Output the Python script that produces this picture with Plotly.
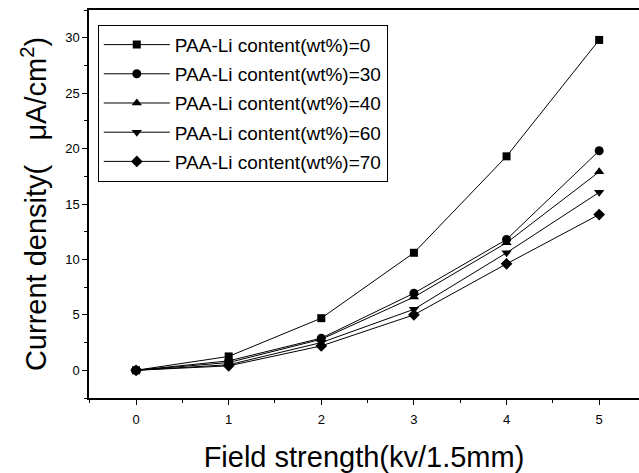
import plotly.graph_objects as go

field = [0, 1, 2, 3, 4, 5]
labels = ["PAA-Li content(wt%)=0", "PAA-Li content(wt%)=30", "PAA-Li content(wt%)=40",
          "PAA-Li content(wt%)=60", "PAA-Li content(wt%)=70"]
c0 = [0.0, 1.25, 4.7, 10.6, 19.3, 29.8]
c30 = [0.0, 0.85, 2.9, 6.95, 11.8, 19.8]
c40 = [0.0, 0.7, 2.8, 6.6, 11.5, 17.9]
c60 = [0.0, 0.5, 2.5, 5.5, 10.6, 16.05]
c70 = [0.0, 0.4, 2.2, 5.0, 9.6, 14.05]
series = [c0, c30, c40, c60, c70]
symbols = ["square", "circle", "triangle-up", "triangle-down", "diamond"]
sizes = [8, 9, 9, 9, 9]

fig = go.Figure()
for i, (lab, ys, sym, sz) in enumerate(zip(labels, series, symbols, sizes)):
    fig.add_trace(go.Scatter(x=field, y=ys, name=lab, mode="lines+markers",
                             legendgroup=f"g{i}",
                             line=dict(color="black", width=1),
                             marker=dict(symbol=sym, size=sz, color="black")))

font = "Liberation Sans, Arial, sans-serif"
fig.update_layout(
    width=639, height=473,
    margin=dict(l=89, r=0, t=10, b=75),
    paper_bgcolor="white", plot_bgcolor="white",
    font=dict(family=font, color="black"),
    showlegend=True,
    legend=dict(x=0.016, y=0.962, xanchor="left", yanchor="top",
                bordercolor="black", borderwidth=1, bgcolor="white",
                traceorder="grouped", tracegroupgap=1.5,
                font=dict(size=19, family=font), itemwidth=66),
    xaxis=dict(range=[-0.508, 5.43], tickvals=[0, 1, 2, 3, 4, 5],
               ticks="outside", ticklen=5, tickwidth=1, tickcolor="black",
               showline=True, linecolor="black", linewidth=1.5, mirror=True,
               showgrid=False, zeroline=False, ticklabelstandoff=4,
               tickfont=dict(size=13),
               minor=dict(dtick=0.5, tick0=0, ticks="outside", ticklen=3, tickcolor="black"),
               title=dict(text="Field strength(kv/1.5mm)", font=dict(size=29), standoff=20)),
    yaxis=dict(range=[-2.5, 32.5], tickvals=[0, 5, 10, 15, 20, 25, 30],
               ticks="outside", ticklen=5, tickwidth=1, tickcolor="black",
               showline=True, linecolor="black", linewidth=1.5, mirror=False,
               showgrid=False, zeroline=False,
               tickfont=dict(size=13),
               minor=dict(dtick=2.5, tick0=0, ticks="outside", ticklen=3, tickcolor="black"),
               title=dict(text="Current density(   \u03bcA/cm<sup>2</sup>)", font=dict(size=29), standoff=10)),
)
fig.write_html("out.html")
